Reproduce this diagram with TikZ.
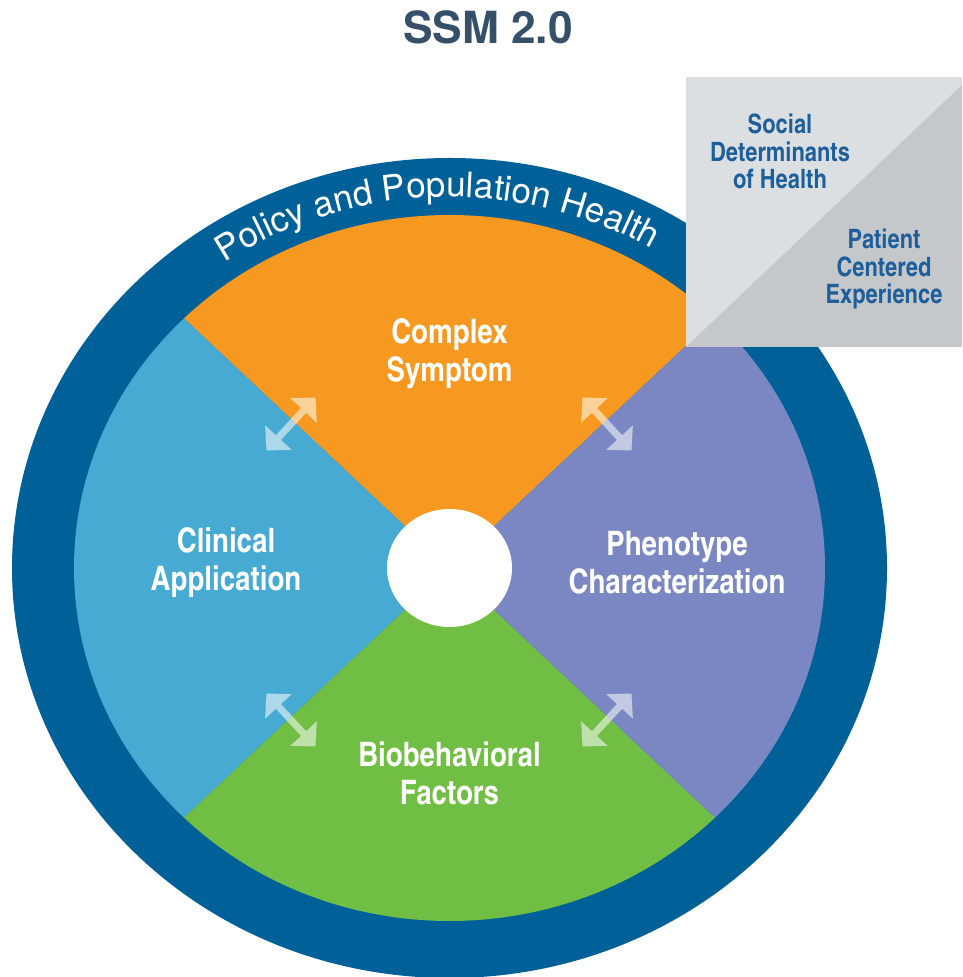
\documentclass[tikz,border=0pt]{standalone}
\usepackage{fontspec}
\setmainfont{TeX Gyre Heros}
\newfontfamily\heroscn{texgyreheroscn}[Extension=.otf, UprightFont=*-regular, BoldFont=*-bold]
\usepackage{tikz}
\usetikzlibrary{positioning, calc, arrows.meta, decorations.text}

\definecolor{ringblue}{RGB}{0,96,152}
\definecolor{symptom}{RGB}{247,153,33}
\definecolor{clinical}{RGB}{71,170,210}
\definecolor{phenotype}{RGB}{123,135,194}
\definecolor{biobehav}{RGB}{112,190,68}
\definecolor{titleblue}{RGB}{54,80,106}
\definecolor{boxlight}{RGB}{220,223,225}
\definecolor{boxdark}{RGB}{197,200,203}
\definecolor{boxtext}{RGB}{30,95,155}

\tikzset{
	sector label/.style={text=white, align=center, font=\heroscn\bfseries\fontsize{9.6}{10.8}\selectfont},
	box label/.style={text=boxtext, align=center, font=\heroscn\bfseries\fontsize{7.6}{7.8}\selectfont},
	link/.style={line width=2pt, white, {Triangle[width=10pt,length=5pt]}-{Triangle[width=10pt,length=5pt]}}
}

\begin{document}
\begin{tikzpicture}
	\useasboundingbox (-4.495,-4.09) rectangle (5.125,5.68);
	
	\fill[ringblue] (0,0) ellipse [x radius=4.375, y radius=4.1];
	\fill[symptom] (0,0) -- (45:3.755 and 3.53) arc[start angle=45, end angle=135, x radius=3.755, y radius=3.53] -- cycle;
	\fill[clinical] (0,0) -- (135:3.755 and 3.53) arc[start angle=135, end angle=225, x radius=3.755, y radius=3.53] -- cycle;
	\fill[biobehav] (0,0) -- (225:3.755 and 3.53) arc[start angle=225, end angle=315, x radius=3.755, y radius=3.53] -- cycle;
	\fill[phenotype] (0,0) -- (-45:3.755 and 3.53) arc[start angle=-45, end angle=45, x radius=3.755, y radius=3.53] -- cycle;
	\fill[white] (0,0) ellipse [x radius=0.625, y radius=0.59];
	
	\path[decorate, decoration={text along path, text align=center,
		text={|\fontsize{10}{12}\selectfont\color{white}|Policy and Population Health}}]
		(152:3.96 and 3.71) arc[start angle=152, end angle=32, x radius=3.96, y radius=3.71];
	
	\node[sector label] (symptomtxt) at (0, 2.14) {Complex\\Symptom};
	\node[sector label] (clinicaltxt) at (-2.235, 0.05) {Clinical\\Application};
	\node[sector label] (phenotypetxt) at (2.275, 0.05) {Phenotype\\Characterization};
	\node[sector label] (biobehavtxt) at (0, -2.05) {Biobehavioral\\Factors};
	
	\coordinate (tl-a) at (-1.83, 1.175);
	\coordinate (tl-b) at (-1.34, 1.705);
	\coordinate (tr-a) at (1.33, 1.705);
	\coordinate (tr-b) at (1.82, 1.175);
	\coordinate (bl-a) at (-1.83, -1.255);
	\coordinate (bl-b) at (-1.34, -1.785);
	\coordinate (br-a) at (1.33, -1.785);
	\coordinate (br-b) at (1.82, -1.255);
	\begin{scope}[transparency group, opacity=0.55]
		\draw[link] (tl-a) -- (tl-b);
		\draw[link] (tr-a) -- (tr-b);
		\draw[link] (bl-a) -- (bl-b);
		\draw[link] (br-a) -- (br-b);
	\end{scope}
	
	\fill[boxlight] (2.365, 2.21) rectangle (5.125, 4.91);
	\fill[boxdark] (2.365, 2.21) -- (5.125, 2.21) -- (5.125, 4.83) -- cycle;
	\node[box label] (social) at (3.305, 4.165) {Social\\Determinants\\of Health};
	\node[box label] (patient) at (4.345, 2.99) {Patient\\Centered\\Experience};
	
	\node[text=titleblue, font=\bfseries\fontsize{12.6}{14}\selectfont] (title) at (0.385, 5.41) {SSM 2.0};
\end{tikzpicture}
\end{document}
